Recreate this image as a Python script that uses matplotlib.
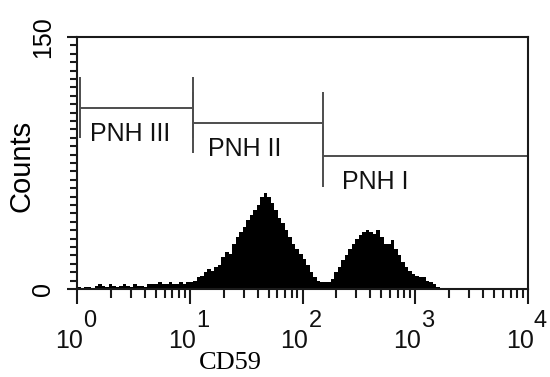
import numpy as np
import matplotlib.pyplot as plt
from matplotlib.ticker import LogLocator, MultipleLocator, NullFormatter


# CD59 histogram, 32 channels per decade from 10^0 to 10^4 (128 channels)
channels_per_decade = 32
counts = [
    1, 0, 1, 1, 0, 2, 3, 2, 1, 3, 2, 1, 2, 3, 2, 1,
    3, 2, 2, 1, 3, 3, 3, 4, 3, 3, 4, 3, 3, 4, 3, 4,
    4, 5, 7, 8, 10, 12, 11, 13, 14, 19, 22, 21, 27, 31, 34, 37,
    41, 44, 47, 50, 55, 57, 55, 51, 47, 42, 39, 35, 31, 27, 24, 21,
    18, 14, 10, 7, 5, 4, 4, 4, 6, 10, 13, 17, 20, 24, 27, 30,
    32, 34, 35, 34, 33, 35, 31, 27, 27, 29, 24, 20, 16, 13, 11, 9,
    8, 7, 7, 5, 4, 3, 1, 0, 0, 0, 0, 0, 0, 0, 0, 0,
    0, 0, 0, 0, 0, 0, 0, 0, 0, 0, 0, 0, 0, 0, 0, 0,
]

# gates (marker regions)
gate_names = ["PNH III", "PNH II", "PNH I"]
gate_lo = [1.06, 10.7, 152]
gate_hi = [10.7, 152, 10000]
gate_y = [108, 99, 79]
gate_bar = 18  # half height of the end bars, in counts

decades = [1, 10, 100, 1000, 10000]
exponents = ["0", "1", "2", "3", "4"]

edges = 10 ** (np.arange(len(counts) + 1) / channels_per_decade)

fig = plt.figure(figsize=(5.5, 3.77), dpi=100)
ax = fig.add_axes([77 / 550, 1 - 289 / 377, (528 - 77) / 550, (289 - 37) / 377])

ax.stairs(counts, edges, fill=True, color="black", linewidth=0.6)

ax.set_xscale("log")
ax.set_xlim(1, 10000)
ax.set_ylim(0, 150)

# gates
gate_color = "#4d4d4d"
ax.hlines(gate_y, gate_lo, gate_hi, color=gate_color, linewidth=1.4)
ax.vlines(gate_lo, np.array(gate_y) - gate_bar, np.array(gate_y) + gate_bar,
          color=gate_color, linewidth=1.4)
ax.vlines(gate_hi, np.array(gate_y) - gate_bar, np.array(gate_y) + gate_bar,
          color=gate_color, linewidth=1.4)
label_dx = [10, 15, 19]
for name, lo, y, dx in zip(gate_names, gate_lo, gate_y, label_dx):
    ax.annotate(name, xy=(lo, y), xytext=(dx, -33), textcoords="offset pixels",
                ha="left", va="baseline", fontsize=18, family="Liberation Sans",
                color="#111111")

# spines
for s in ax.spines.values():
    s.set_linewidth(1.5)
    s.set_color("#1a1a1a")

# x ticks: decades with big "10^n" labels
ax.xaxis.set_major_locator(LogLocator(base=10, numticks=10))
ax.xaxis.set_minor_locator(LogLocator(base=10, subs=np.arange(2, 10), numticks=10))
ax.xaxis.set_major_formatter(NullFormatter())
ax.xaxis.set_minor_formatter(NullFormatter())
ax.tick_params(axis="x", which="major", direction="out", length=11, width=1.5, color="#1a1a1a")
ax.tick_params(axis="x", which="minor", direction="out", length=6.5, width=1.5, color="#1a1a1a")

for d, e in zip(decades, exponents):
    ax.annotate("10", xy=(d, 0), xycoords=("data", "axes fraction"),
                xytext=(6, -59), textcoords="offset pixels",
                ha="right", va="baseline", fontsize=18, family="Liberation Sans",
                color="#111111")
    ax.annotate(e, xy=(d, 0), xycoords=("data", "axes fraction"),
                xytext=(6, -38), textcoords="offset pixels",
                ha="left", va="baseline", fontsize=17, family="Liberation Sans",
                color="#111111")

# y ticks
ax.set_yticks([0, 150])
ax.yaxis.set_minor_locator(MultipleLocator(5))
ax.tick_params(axis="y", which="major", direction="out", length=7, width=1.5,
               color="#1a1a1a", pad=9, labelsize=18, labelrotation=90)
ax.tick_params(axis="y", which="minor", direction="out", length=5, width=1.5, color="#1a1a1a")
for t in ax.get_yticklabels():
    t.set_family("Liberation Sans")
    t.set_va("center")

ax.set_xlabel("CD59", fontsize=19, family="Liberation Serif", va="baseline")
ax.xaxis.set_label_coords(0.339, -0.318)
ax.set_ylabel("Counts", fontsize=21, family="Liberation Sans", va="center", ha="center")
ax.yaxis.set_label_coords(-0.122, 0.488)

fig.savefig("out.png", dpi=100)
